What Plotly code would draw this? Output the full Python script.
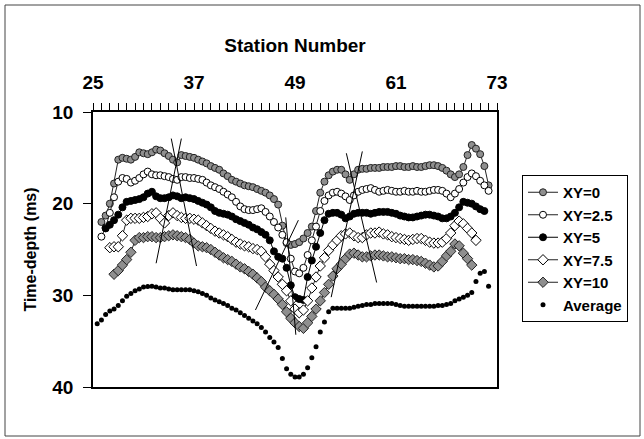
import plotly.graph_objects as go

# ---------------- data ----------------
x_xy0_start = 26.0
xy0 = [22.0, 21.3, 20.0, 17.8, 15.2, 15.0, 15.1, 15.2, 14.9, 14.4, 14.5, 14.6, 14.4, 14.1,
       14.2, 14.5, 14.8, 15.2, 15.5, 14.7, 14.8, 14.9, 15.0, 15.2, 15.4, 15.6, 15.9, 16.1,
       16.3, 16.7, 17.0, 17.4, 17.6, 17.8, 18.0, 18.1, 18.2, 18.4, 18.6, 18.8, 19.1, 19.5,
       20.1, 22.4, 24.3, 24.5, 24.4, 24.2, 23.8, 23.2, 22.5, 20.8, 18.8, 17.6, 16.9, 16.5,
       16.3, 16.3, 16.8, 17.4, 16.8, 16.3, 16.2, 16.2, 16.1, 16.1, 16.1, 16.0, 16.0, 16.0,
       15.9, 15.9, 16.0, 16.0, 15.9, 16.0, 16.0, 15.9, 15.8, 15.8, 15.9, 16.1, 16.4, 16.8,
       17.1, 16.8, 16.0, 14.7, 13.6, 14.0, 14.6, 15.9, 18.0]

x_xy25_start = 26.0
xy25 = [23.6, 22.6, 21.0, 19.3, 17.6, 17.2, 17.3, 17.7, 17.5, 17.2, 16.8, 16.5, 16.8, 16.9,
        16.9, 17.0, 17.1, 17.3, 17.4, 17.1, 17.1, 17.2, 17.2, 17.3, 17.4, 17.7, 18.0, 18.2,
        18.4, 18.7, 19.0, 19.3, 19.8, 20.3, 20.6, 20.7, 20.7, 20.6, 20.5, 20.9, 21.4, 22.0,
        22.6, 23.4, 24.2, 26.0, 27.4, 27.6, 27.0, 25.6, 24.0, 22.5, 20.8, 19.7, 19.1, 18.8,
        18.7, 18.9, 19.2, 19.6, 19.1, 18.7, 18.5, 18.4, 18.3, 18.5, 18.7, 18.6, 18.5, 18.6,
        18.7, 18.7, 18.6, 18.7, 18.7, 18.6, 18.7, 18.7, 18.6, 18.5, 18.5, 18.6, 18.9, 19.3,
        18.9, 18.4, 17.7, 17.1, 16.7, 17.0, 17.5, 18.0, 18.6]

x_xy5_start = 26.5
xy5 = [22.7, 22.3, 21.8, 21.2, 20.4, 19.8, 19.7, 19.6, 19.5, 19.3, 18.9, 18.7, 19.2, 19.4,
       19.4, 19.3, 19.1, 19.2, 19.4, 19.3, 19.4, 19.5, 19.7, 19.9, 20.1, 20.4, 20.8, 21.0,
       21.1, 21.2, 21.4, 21.7, 21.9, 22.1, 22.3, 22.6, 22.8, 23.1, 23.4, 24.0, 25.2, 25.8,
       26.0, 27.0, 28.9, 30.2, 30.4, 30.5, 28.0, 26.2, 24.7, 23.2, 21.8, 21.1, 21.0, 21.0,
       21.2, 21.6, 21.4, 21.1, 21.0, 21.0, 21.0, 21.1, 21.0, 20.9, 20.9, 20.9, 21.0, 21.1,
       21.3, 21.4, 21.5, 21.5, 21.4, 21.3, 21.2, 21.2, 21.3, 21.4, 21.6, 21.6, 21.4, 21.0,
       20.4, 19.8, 19.9, 20.0, 20.3, 20.6, 20.8]

x_xy75_start = 27.0
xy75 = [24.8, 24.7, 24.7, 23.5, 21.8, 21.6, 21.6, 21.6, 21.5, 21.4, 21.1, 21.0, 21.6, 22.1,
        21.3, 21.0, 21.3, 21.5, 21.6, 21.6, 21.7, 21.8, 22.1, 22.4, 22.7, 23.0, 23.2, 23.4,
        23.6, 23.9, 24.2, 24.4, 24.6, 24.7, 24.9, 25.0, 25.2, 25.8, 26.6, 27.3, 28.0, 28.8,
        29.5, 30.6, 31.5, 31.9, 31.6, 30.6, 29.2, 28.0, 26.8, 25.9, 25.1, 24.5, 24.0, 23.5,
        23.3, 23.2, 23.5, 23.7, 23.7, 23.4, 23.2, 23.2, 23.1, 23.3, 23.4, 23.6, 23.7, 23.8,
        23.9, 24.0, 23.9, 23.8, 23.8, 24.0, 24.2, 24.3, 24.3, 24.2, 23.8, 23.2, 22.4, 21.9,
        22.2, 22.7, 23.2, 24.0]

x_xy10_start = 27.5
xy10 = [27.7, 27.3, 26.7, 26.1, 25.3, 24.0, 23.7, 23.7, 23.6, 23.6, 23.7, 23.7, 23.6, 23.5,
        23.4, 23.5, 23.6, 23.7, 23.9, 24.3, 24.6, 24.7, 24.8, 25.0, 25.3, 25.6, 25.9, 26.1,
        26.3, 26.6, 26.9, 27.1, 27.4, 27.7, 28.1, 28.5, 29.1, 29.5, 29.9, 30.4, 31.0, 31.8,
        32.5, 33.0, 33.4, 33.6, 33.0, 32.3, 31.5, 30.6, 29.7, 28.8, 27.9, 27.1, 26.6, 26.0,
        25.5, 25.4, 25.6, 25.8, 25.8, 25.7, 25.6, 25.6, 25.7, 25.8, 25.8, 25.9, 26.0, 26.0,
        26.1, 26.1, 26.2, 26.3, 26.5, 26.7, 26.9, 26.8, 26.3, 25.7, 25.2, 24.4, 24.6, 25.4,
        26.0, 26.7]

x_avg_start = 25.5
avg = [33.1, 32.7, 32.1, 31.7, 31.5, 31.1, 30.6, 30.1, 29.8, 29.5, 29.3, 29.1, 29.05, 29.0,
       29.1, 29.2, 29.2, 29.3, 29.4, 29.4, 29.4, 29.4, 29.4, 29.5, 29.6, 29.8, 30.0, 30.3,
       30.5, 30.7, 30.9, 31.1, 31.4, 31.6, 31.9, 32.2, 32.5, 32.8, 33.1, 33.5, 34.0, 34.6,
       35.1, 35.7, 36.9, 38.0, 38.6, 38.9, 38.9, 38.6, 37.9, 36.8, 35.6, 34.0, 32.9, 31.8,
       31.4, 31.4, 31.4, 31.4, 31.4, 31.3, 31.2, 31.1, 31.0, 31.0, 30.9, 30.9, 30.9, 30.9,
       30.9, 31.0, 31.1, 31.2, 31.2, 31.2, 31.2, 31.2, 31.2, 31.2, 31.2, 31.1, 31.1, 31.0,
       30.9, 30.6, 30.4, 30.2, 30.0, 29.7, 28.5, 27.6, 27.4, 29.0]

# thin interpretation lines (station, time-depth) endpoints
line_x = [[32.5, 35.5], [34.3, 37.3], [47.9, 49.1], [49.4, 44.3], [55.1, 58.7], [57.0, 53.3]]
line_y = [[26.5, 12.9], [12.9, 26.8], [21.5, 34.3], [21.8, 31.6], [14.5, 28.6], [14.3, 30.2]]

x_ticks = [25, 37, 49, 61, 73]
y_ticks = [10, 20, 30, 40]

series_names = ["XY=0", "XY=2.5", "XY=5", "XY=7.5", "XY=10", "Average"]


def xs(start, n, step=0.5):
    return [start + step * i for i in range(n)]


FONT = "Liberation Sans, Arial, sans-serif"
GRAY = "#8f8f8f"
DARK = "#222222"

fig = go.Figure()

fig.add_trace(go.Scatter(x=xs(x_xy0_start, len(xy0)), y=xy0, name=series_names[0],
                         mode="lines+markers", line=dict(color=DARK, width=1),
                         marker=dict(symbol="circle", size=7, color=GRAY,
                                     line=dict(color=DARK, width=1))))
fig.add_trace(go.Scatter(x=xs(x_xy25_start, len(xy25)), y=xy25, name=series_names[1],
                         mode="lines+markers", line=dict(color=DARK, width=1),
                         marker=dict(symbol="circle", size=7, color="white",
                                     line=dict(color="black", width=1))))
fig.add_trace(go.Scatter(x=xs(x_xy5_start, len(xy5)), y=xy5, name=series_names[2],
                         mode="lines+markers", line=dict(color="black", width=1),
                         marker=dict(symbol="circle", size=7, color="black",
                                     line=dict(color="black", width=1))))
fig.add_trace(go.Scatter(x=xs(x_xy75_start, len(xy75)), y=xy75, name=series_names[3],
                         mode="lines+markers", line=dict(color=DARK, width=1),
                         marker=dict(symbol="diamond", size=8, color="white",
                                     line=dict(color="black", width=1))))
fig.add_trace(go.Scatter(x=xs(x_xy10_start, len(xy10)), y=xy10, name=series_names[4],
                         mode="lines+markers", line=dict(color=DARK, width=1),
                         marker=dict(symbol="diamond", size=8, color=GRAY,
                                     line=dict(color=DARK, width=1))))
fig.add_trace(go.Scatter(x=xs(x_avg_start, len(avg)), y=avg, name=series_names[5],
                         mode="markers",
                         marker=dict(symbol="circle", size=5, color="black")))

for lx, ly in zip(line_x, line_y):
    fig.add_trace(go.Scatter(x=lx, y=ly, mode="lines", showlegend=False,
                             line=dict(color="black", width=1), hoverinfo="skip"))

W, H = 644, 439
L, R, T, B = 93, 497, 112, 387


def px(v):
    return (v - L) / (R - L)


def py(v):
    return (B - v) / (B - T)


fig.add_shape(type="rect", xref="paper", yref="paper",
              x0=px(5), x1=px(640), y0=py(436), y1=py(5),
              line=dict(color="#444444", width=1))

fig.update_layout(
    width=W, height=H,
    margin=dict(l=L, r=W - R, t=T, b=H - B, pad=0),
    paper_bgcolor="white", plot_bgcolor="white",
    font=dict(family=FONT, color="black", size=15, weight="bold"),
    showlegend=True,
    legend=dict(x=px(522), y=py(175), xanchor="left", yanchor="top",
                bordercolor="black", borderwidth=1, bgcolor="white",
                font=dict(family=FONT, size=15, color="black", weight="bold"),
                itemwidth=30, tracegroupgap=0),
)

fig.update_xaxes(
    side="top", range=[25, 73], tickvals=x_ticks, ticktext=[str(v) for v in x_ticks],
    ticks="outside", ticklen=7, tickwidth=1, tickcolor="black",
    minor=dict(dtick=1, tick0=25, ticks="outside", ticklen=7, tickwidth=1, tickcolor="black"),
    showline=True, linecolor="black", linewidth=1.5, mirror=True,
    showgrid=False, zeroline=False,
    tickfont=dict(family=FONT, size=19, color="black", weight="bold"),
    ticklabelstandoff=7,
    title=dict(text="Station Number", standoff=14,
               font=dict(family=FONT, size=19, color="black", weight="bold")),
)
fig.update_yaxes(
    range=[40, 10], tickvals=y_ticks, ticktext=[str(v) for v in y_ticks],
    ticks="outside", ticklen=8, tickwidth=1, tickcolor="black",
    showline=True, linecolor="black", linewidth=1.5, mirror=True,
    showgrid=False, zeroline=False,
    tickfont=dict(family=FONT, size=19, color="black", weight="bold"),
    ticklabelstandoff=6,
    title=dict(text="Time-depth (ms)", standoff=12,
               font=dict(family=FONT, size=16, color="black", weight="bold")),
)

fig.write_html("out.html")
